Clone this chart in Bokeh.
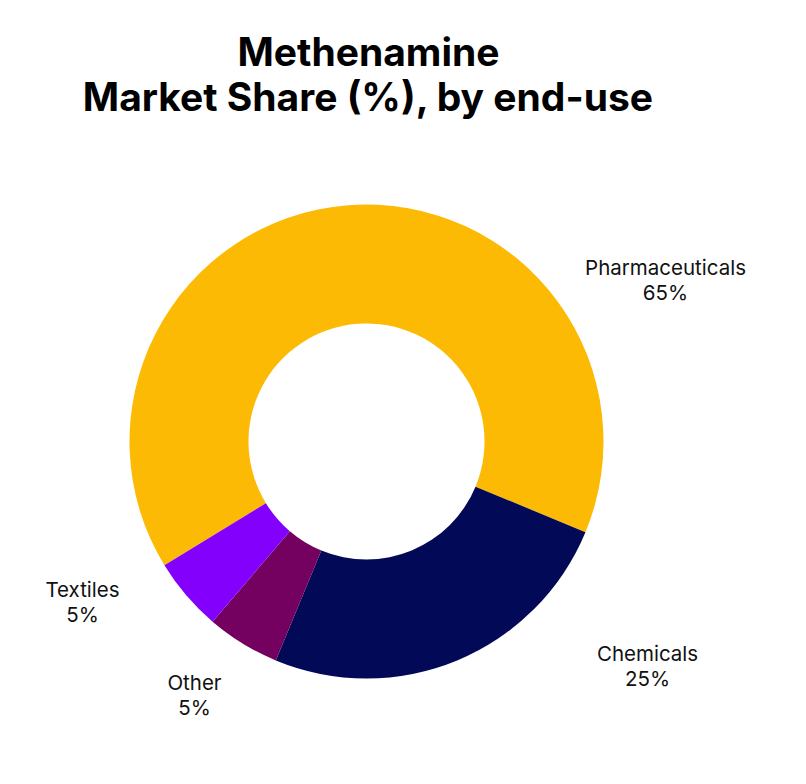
import math
from bokeh.plotting import figure
from bokeh.models import Range1d
from bokeh.core.properties import value
from bokeh.embed import file_html
from bokeh.resources import INLINE

# data
segments = ["Pharmaceuticals", "Chemicals", "Other", "Textiles"]
shares = [65, 25, 5, 5]
colors = ["#FDBA04", "#020A57", "#74005F", "#8400FD"]

W, H = 790, 768
CX, CY = 366, H - 441          # donut centre (pixels, y up)
R_OUT, R_IN = 237, 118
START = 211.5                  # degrees, slices run clockwise

# label anchors (name line), picked by hand like the original
label_xy = [(665, H - 267), (647, H - 653), (194, H - 682), (82, H - 589)]

p = figure(width=W, height=H, output_backend="svg", toolbar_location=None,
           x_range=Range1d(0, W), y_range=Range1d(0, H), min_border=0)
p.axis.visible = False
p.grid.visible = False
p.outline_line_color = None

total = sum(shares)
starts, ends = [], []
a = START
for s in shares:
    starts.append(math.radians(a))
    a -= 360 * s / total
    ends.append(math.radians(a))

p.annular_wedge(x=CX, y=CY, inner_radius=R_IN, outer_radius=R_OUT,
                start_angle=starts, end_angle=ends, direction="clock",
                fill_color=colors, line_color=None)

lx = [xy[0] for xy in label_xy]
ly = [xy[1] for xy in label_xy]
p.text(lx, ly, text=segments, text_font=value("Inter"), text_font_size="20.5px",
       text_align="center", text_baseline="alphabetic", text_color="#111111")
p.text(lx, [y - 25 for y in ly], text=[f"{s}%" for s in shares],
       text_font=value("Inter"), text_font_size="20.5px",
       text_align="center", text_baseline="alphabetic", text_color="#111111")

# title
p.text([368, 368], [H - 51, H - 96], text=["Methenamine", "Market Share (%), by end-use"],
       text_font=value("Inter"), text_font_size="39px", text_font_style="bold",
       text_align="center", text_baseline="alphabetic", text_color="#000000")

open("out.html", "w").write(file_html(p, INLINE))
